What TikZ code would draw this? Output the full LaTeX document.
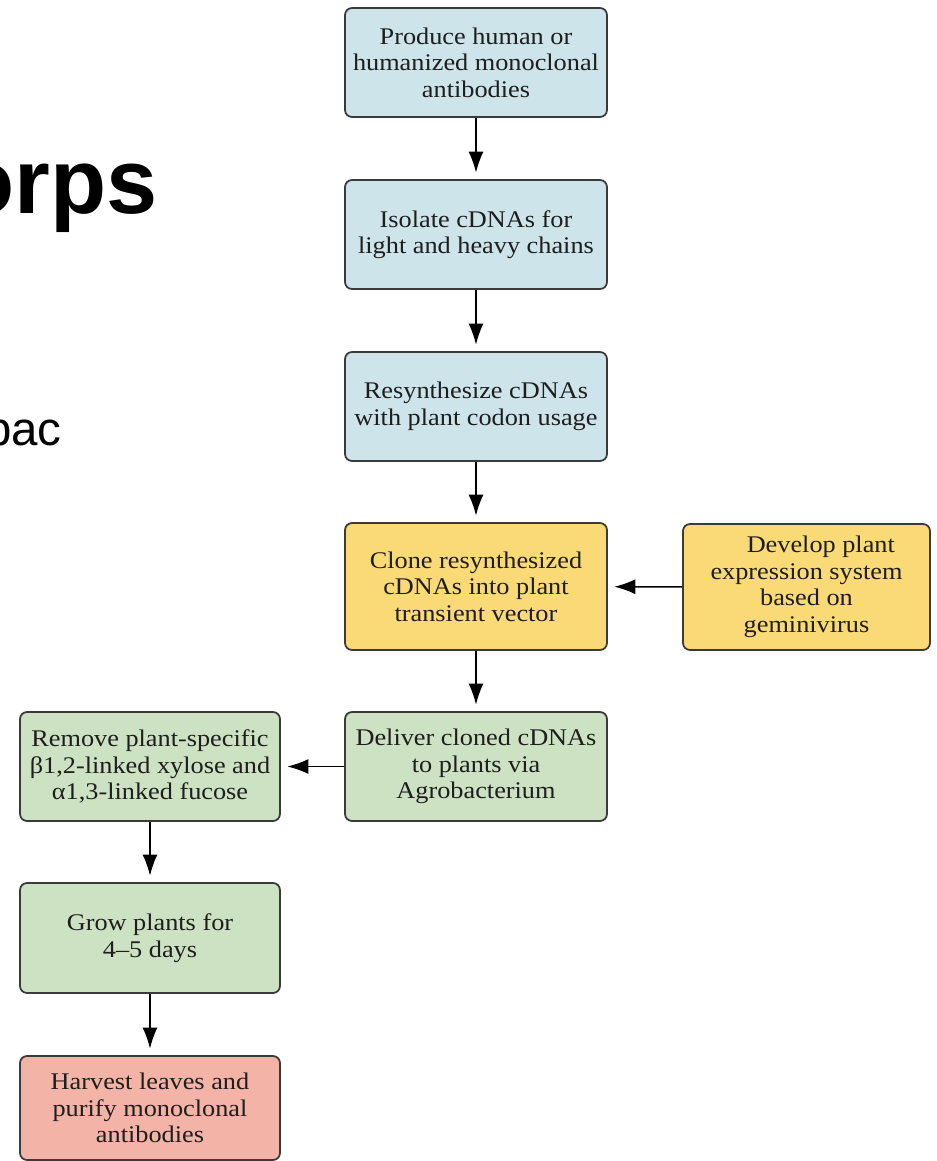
\documentclass[tikz,border=0pt]{standalone}
\usepackage{fontspec}
\setmainfont{Liberation Serif}[FakeStretch=1.1]
\newfontfamily\titlesans{Liberation Sans}
\usetikzlibrary{arrows.meta}
\definecolor{boxblue}{HTML}{CDE4EA}
\definecolor{boxyellow}{HTML}{FAD977}
\definecolor{boxgreen}{HTML}{CCE2C2}
\definecolor{boxpink}{HTML}{F3B4A7}
\definecolor{boxline}{HTML}{3A3A3A}
\definecolor{boxtext}{HTML}{1E1E1E}
\tikzset{
  flowbox/.style={draw=boxline, line width=1pt, rounded corners=0.14cm,
    minimum width=5.24cm, minimum height=2.18cm, align=center, inner sep=2pt,
    text=boxtext, font=\fontsize{13.6}{15.1}\selectfont},
  flowarrow/.style={line width=0.85pt, draw=black,
    -{Latex[length=0.42cm,width=0.3cm]}, shorten >=0.13cm}
}
\begin{document}
\begin{tikzpicture}[x=0.02cm,y=-0.02cm]
\useasboundingbox (0,0) rectangle (937,1161);
\clip (0,0) rectangle (937,1161);
% cut-off slide text
\node[anchor=base east, inner sep=0pt, font=\titlesans\bfseries\fontsize{52.3}{60}\selectfont] (ttl) at (158,213) {orps};
\node[anchor=base east, inner sep=0pt, font=\titlesans\fontsize{27}{32}\selectfont] (sub) at (62,445) {bac};
% boxes
\node[flowbox, fill=boxblue] (b1) at (476,62.5) {Produce human or\\humanized monoclonal\\antibodies};
\node[flowbox, fill=boxblue] (b2) at (476,234.5) {Isolate cDNAs for\\light and heavy chains};
\node[flowbox, fill=boxblue] (b3) at (476,406.5) {Resynthesize cDNAs\\with plant codon usage};
\node[flowbox, fill=boxyellow, minimum height=2.54cm] (b4) at (476,586.5) {Clone resynthesized\\cDNAs into plant\\transient vector};
\node[flowbox, fill=boxyellow, minimum width=4.94cm, minimum height=2.52cm] (r1) at (806.5,587) {\hspace*{1.2em}Develop plant\\expression system\\based on\\geminivirus};
\node[flowbox, fill=boxgreen] (b5) at (476,766.5) {Deliver cloned cDNAs\\to plants via\\Agrobacterium};
\node[flowbox, fill=boxgreen, minimum width=5.2cm] (l6) at (150,766.5) {Remove plant-specific\\β1,2-linked xylose and\\α1,3-linked fucose};
\node[flowbox, fill=boxgreen, minimum width=5.2cm, minimum height=2.2cm] (l7) at (150,938) {Grow plants for\\4–5 days};
\node[flowbox, fill=boxpink, minimum width=5.2cm, minimum height=2.08cm] (l8) at (150,1108) {Harvest leaves and\\purify monoclonal\\antibodies};
% connectors
\draw[flowarrow] (b1) -- (b2);
\draw[flowarrow] (b2) -- (b3);
\draw[flowarrow] (b3) -- (b4);
\draw[flowarrow] (r1) -- (b4);
\draw[flowarrow] (b4) -- (b5);
\draw[flowarrow] (b5) -- (l6);
\draw[flowarrow] (l6) -- (l7);
\draw[flowarrow] (l7) -- (l8);
\end{tikzpicture}
\end{document}
